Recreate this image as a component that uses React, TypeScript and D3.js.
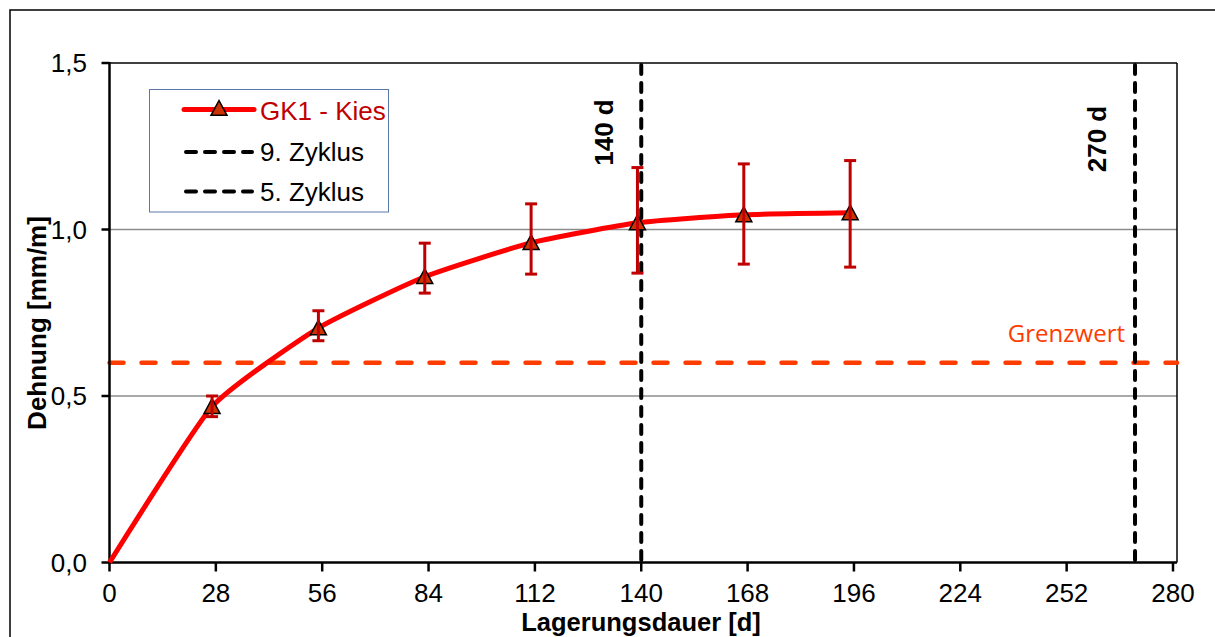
import React from "react";
import * as d3 from "d3";

const days = [0, 27, 55, 83, 111, 139, 167, 195];
const dehnung = [0, 0.468, 0.704, 0.858, 0.96, 1.02, 1.044, 1.05];
const errUpper = [NaN, 0.5, 0.756, 0.959, 1.077, 1.186, 1.197, 1.207];
const errLower = [NaN, 0.438, 0.666, 0.809, 0.866, 0.869, 0.896, 0.887];
const xTicks = [0, 28, 56, 84, 112, 140, 168, 196, 224, 252, 280];
const yTicks = [0, 0.5, 1.0, 1.5];
const gridValues = [0.5, 1.0];
const cycleDays = [140, 270];
const cycleLabels = ["140 d", "270 d"];
const grenzwert = 0.6;
const legendLabels = ["GK1 - Kies", "9. Zyklus", "5. Zyklus"];

const W = 1215;
const H = 637;
const FONT = "'Liberation Sans', Arial, sans-serif";

export default function App() {
  const x = d3.scaleLinear().domain([0, 280]).range([109.5, 1173]);
  const y = d3.scaleLinear().domain([0, 1.5]).range([562.5, 63]);
  const plotRight = 1177;
  const plotTop = y(1.5);
  const plotBottom = y(0);
  const plotLeft = x(0);

  const pts = days.map((d, i) => [x(d), y(dehnung[i])] as [number, number]);
  const line = d3.line().curve(d3.curveCardinal.tension(0.5))(pts) || "";

  const tri = (cx: number, cy: number, s = 8) =>
    `M${cx},${cy - s} L${cx + s},${cy + s * 0.85} L${cx - s},${cy + s * 0.85} Z`;

  const fmt = (v: number) => v.toFixed(1).replace(".", ",");

  const legendY = [109.5, 152, 191.5];
  const legendTextY = [119.5, 161, 200.5];

  return (
    <svg
      width={W}
      height={H}
      style={{ position: "absolute", left: 0, top: 0, background: "#fff" }}
      fontFamily={FONT}
    >
      <rect x={0} y={0} width={W} height={H} fill="#fff" />
      {/* outer chart border */}
      <rect x={10} y={10} width={W + 20} height={H + 20} fill="none" stroke="#000" strokeWidth={1.5} />

      {/* gridlines */}
      {gridValues.map((v) => (
        <line key={v} x1={plotLeft} x2={plotRight} y1={y(v)} y2={y(v)} stroke="#8c8c8c" strokeWidth={1.5} />
      ))}
      {/* plot top / right border */}
      <line x1={plotLeft} x2={plotRight} y1={plotTop} y2={plotTop} stroke="#000" strokeWidth={1.5} />
      <line x1={plotRight} x2={plotRight} y1={plotTop} y2={plotBottom} stroke="#000" strokeWidth={1.5} />

      {/* Grenzwert */}
      <line
        x1={plotLeft}
        x2={plotRight}
        y1={y(grenzwert)}
        y2={y(grenzwert)}
        stroke="#ff3c00"
        strokeWidth={4.5}
        strokeDasharray="14,18"
        strokeLinecap="round"
      />
      <text x={1125} y={341.5} textAnchor="end" fontFamily="'Open Sans', sans-serif" fontSize={24} fill="#ff3c00">
        Grenzwert
      </text>

      {/* cycle lines */}
      {cycleDays.map((d, i) => (
        <g key={d}>
          <line
            x1={x(d)}
            x2={x(d)}
            y1={plotTop + 2}
            y2={plotBottom}
            stroke="#000"
            strokeWidth={4}
            strokeDasharray="9,9"
            strokeLinecap="round"
          />
          <text
            transform={`translate(${i === 0 ? 613 : 1106},${i === 0 ? 132.5 : 139}) rotate(-90)`}
            textAnchor="middle"
            fontWeight="bold"
            fontSize={26}
          >
            {cycleLabels[i]}
          </text>
        </g>
      ))}

      {/* axes */}
      <line x1={plotLeft} x2={plotLeft} y1={plotTop - 1} y2={plotBottom + 1} stroke="#000" strokeWidth={2.5} />
      <line x1={plotLeft - 1} x2={plotRight} y1={plotBottom} y2={plotBottom} stroke="#000" strokeWidth={2.5} />
      {yTicks.map((v) => (
        <g key={v}>
          <line x1={plotLeft - 8} x2={plotLeft} y1={y(v)} y2={y(v)} stroke="#000" strokeWidth={2.5} />
          <text x={87} y={y(v) + 9} textAnchor="end" fontSize={26}>
            {fmt(v)}
          </text>
        </g>
      ))}
      {xTicks.map((v) => (
        <g key={v}>
          <line x1={x(v)} x2={x(v)} y1={plotBottom} y2={plotBottom + 9} stroke="#000" strokeWidth={2.5} />
          <text x={x(v)} y={602} textAnchor="middle" fontSize={26}>
            {v}
          </text>
        </g>
      ))}
      <text x={641} y={631} textAnchor="middle" fontWeight="bold" fontSize={25.5}>
        Lagerungsdauer [d]
      </text>
      <text transform="translate(46,323) rotate(-90)" textAnchor="middle" fontWeight="bold" fontSize={26}>
        Dehnung [mm/m]
      </text>

      {/* data line */}
      <path d={line} fill="none" stroke="#ff0000" strokeWidth={5} strokeLinejoin="round" />
      {days.map((d, i) =>
        i === 0 ? null : (
          <path key={"m" + d} d={tri(x(d), y(dehnung[i]))} fill="#cc3300" stroke="#000" strokeWidth={1.5} />
        )
      )}
      {days.map((d, i) =>
        i === 0 ? null : (
          <g key={"e" + d} stroke="#c00000" strokeWidth={3}>
            <line x1={x(d)} x2={x(d)} y1={y(errUpper[i])} y2={y(errLower[i])} />
            <line x1={x(d) - 6} x2={x(d) + 6} y1={y(errUpper[i])} y2={y(errUpper[i])} />
            <line x1={x(d) - 6} x2={x(d) + 6} y1={y(errLower[i])} y2={y(errLower[i])} />
          </g>
        )
      )}

      {/* legend */}
      <rect x={149.5} y={89.5} width={239} height={122.5} fill="#fff" stroke="#5a78a8" strokeWidth={1} />
      <line x1={184} x2={254} y1={legendY[0]} y2={legendY[0]} stroke="#ff0000" strokeWidth={5} strokeLinecap="round" />
      <path d={tri(219, legendY[0] - 1)} fill="#cc3300" stroke="#000" strokeWidth={1.5} />
      {[1, 2].map((k) => (
        <line
          key={k}
          x1={186}
          x2={252}
          y1={legendY[k]}
          y2={legendY[k]}
          stroke="#000"
          strokeWidth={4}
          strokeDasharray="10,9"
          strokeLinecap="round"
        />
      ))}
      {legendLabels.map((t, k) => (
        <text key={t} x={260} y={legendTextY[k]} fontSize={26} fill={k === 0 ? "#c00000" : "#000"}>
          {t}
        </text>
      ))}
    </svg>
  );
}
